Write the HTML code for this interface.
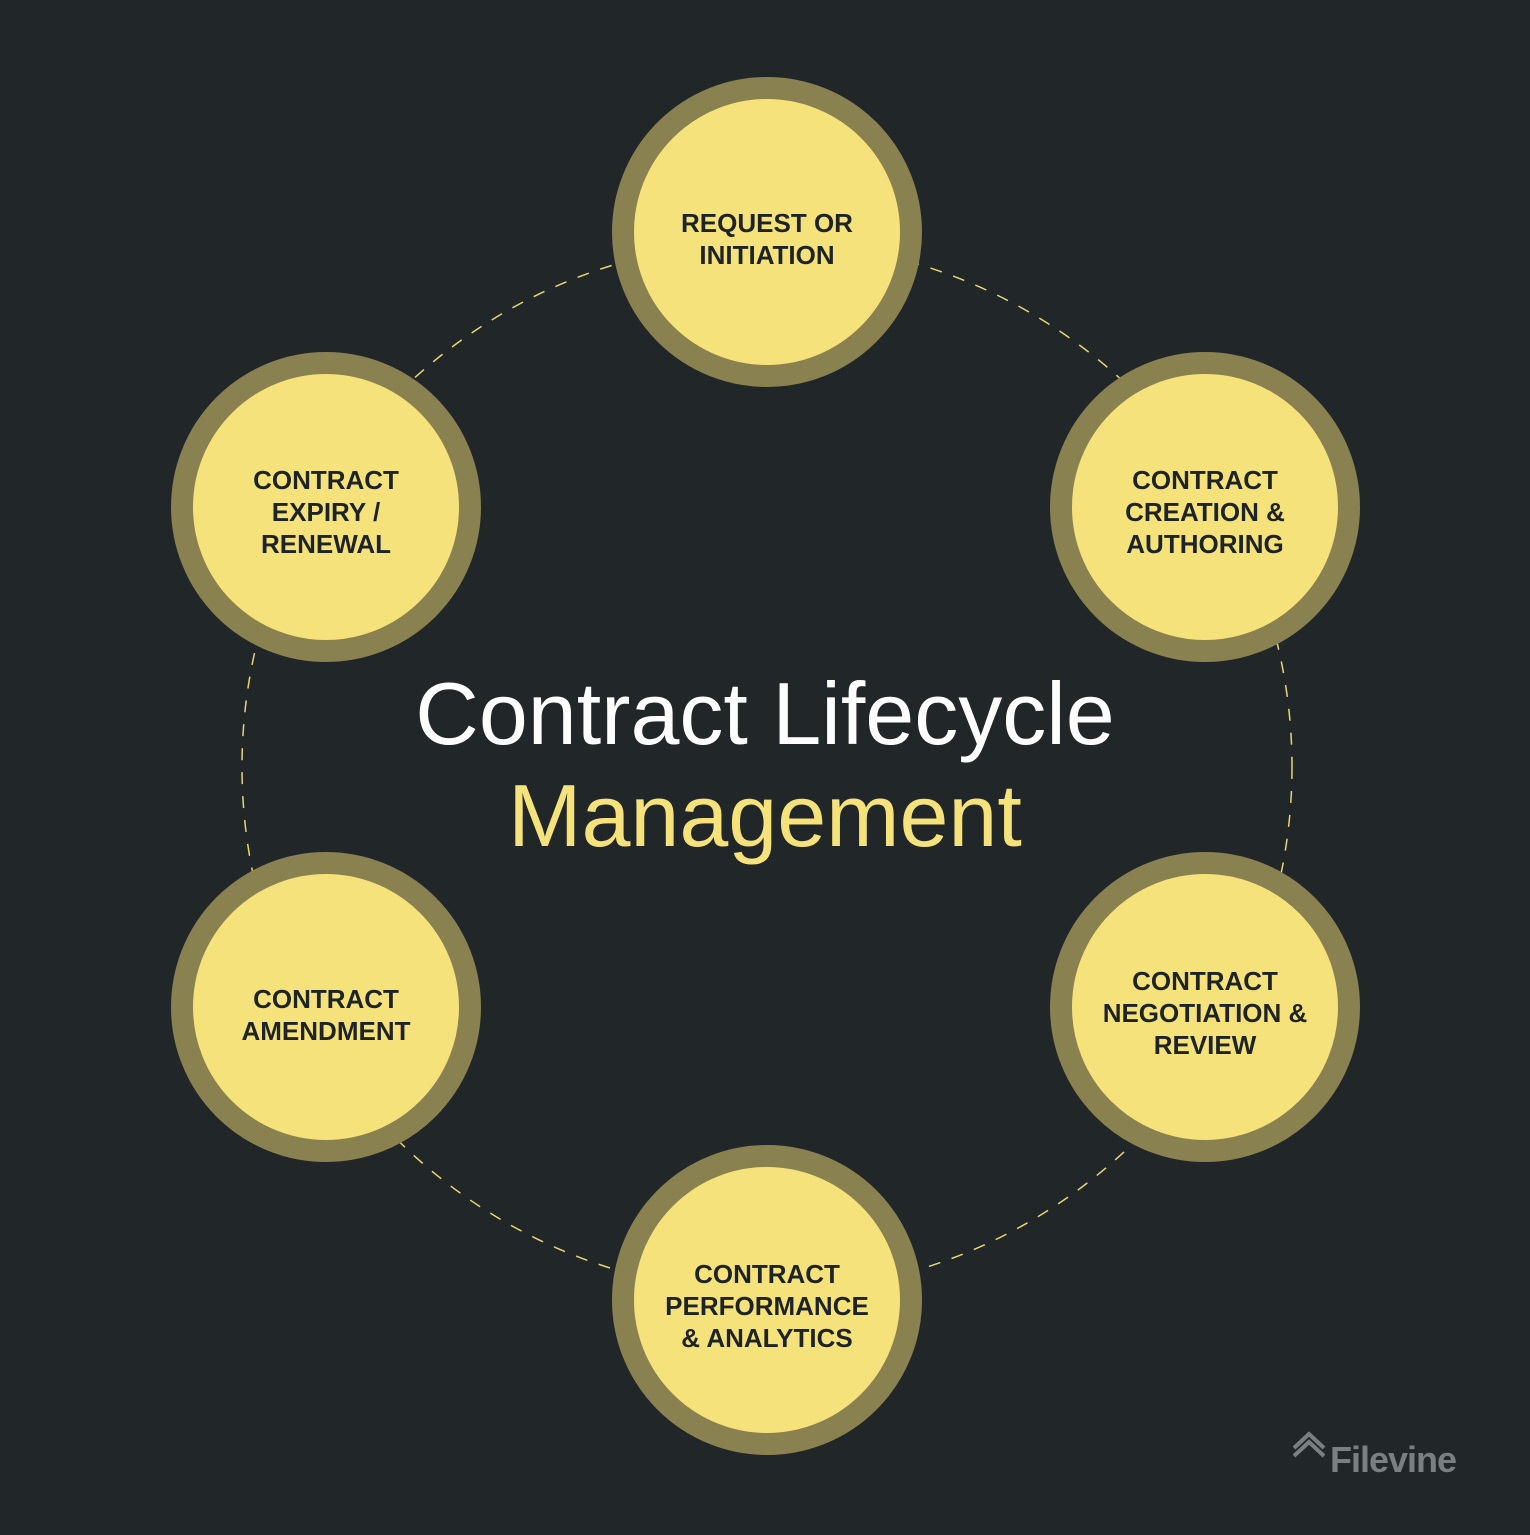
<!DOCTYPE html>
<html><head><meta charset="utf-8"><style>
html,body{margin:0;padding:0;background:#212628;}
</style></head><body>
<svg width="1530" height="1530" viewBox="0 0 1530 1530" xmlns="http://www.w3.org/2000/svg">
<rect width="1530" height="1530" fill="#212628"/>
<circle cx="767" cy="767" r="525" fill="none" stroke="#e9d673" stroke-width="1.5" stroke-dasharray="12 12"/>
<g stroke="#8a8150" stroke-width="22" fill="#f5e27a">
<circle cx="767" cy="232" r="144"/>
<circle cx="1205" cy="507" r="144"/>
<circle cx="1205" cy="1007" r="144"/>
<circle cx="767" cy="1300" r="144"/>
<circle cx="326" cy="1007" r="144"/>
<circle cx="326" cy="507" r="144"/>
</g>
<g font-family="Liberation Sans, sans-serif" font-weight="bold" font-size="26" fill="#1e2326" text-anchor="middle">
<text x="767" y="232">REQUEST OR</text><text x="767" y="264">INITIATION</text>
<text x="1205" y="489">CONTRACT</text><text x="1205" y="521">CREATION &amp;</text><text x="1205" y="553">AUTHORING</text>
<text x="1205" y="990">CONTRACT</text><text x="1205" y="1022">NEGOTIATION &amp;</text><text x="1205" y="1054">REVIEW</text>
<text x="767" y="1283">CONTRACT</text><text x="767" y="1315">PERFORMANCE</text><text x="767" y="1347">&amp; ANALYTICS</text>
<text x="326" y="1008">CONTRACT</text><text x="326" y="1040">AMENDMENT</text>
<text x="326" y="489">CONTRACT</text><text x="326" y="521">EXPIRY /</text><text x="326" y="553">RENEWAL</text>
</g>
<g font-family="Liberation Sans, sans-serif" font-size="88" text-anchor="middle">
<text x="765" y="744" fill="#ffffff">Contract Lifecycle</text>
<text x="765" y="846" fill="#f5e27a">Management</text>
</g>
<g fill="none" stroke="#7a7f82" stroke-width="4">
<polyline points="1294,1448 1309,1434 1324,1448"/>
<polyline points="1294,1456 1309,1442 1324,1456"/>
</g>
<text x="1393" y="1472" font-family="Liberation Sans, sans-serif" font-weight="bold" font-size="36" fill="#7a7f82" text-anchor="middle" letter-spacing="-1">Filevine</text>
</svg>
</body></html>
